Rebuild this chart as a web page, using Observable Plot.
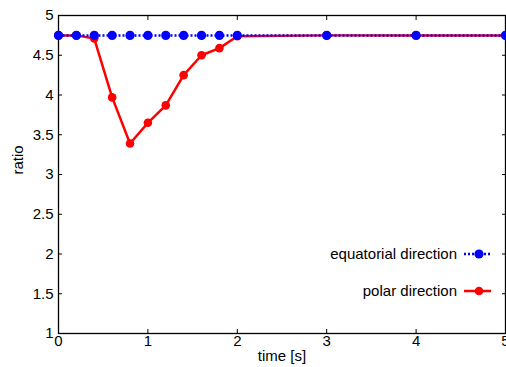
<!DOCTYPE html>
<html>
<head>
<meta charset="utf-8">
<script src="https://cdn.jsdelivr.net/npm/d3@7"></script>
<script src="https://cdn.jsdelivr.net/npm/@observablehq/plot@0.6"></script>
<style>
  html, body { margin: 0; padding: 0; background: #fff; }
  #chart { position: relative; width: 506px; height: 367px; overflow: hidden; }
</style>
</head>
<body>
<div id="chart"></div>
<script>
const times = [0, 0.2, 0.4, 0.6, 0.8, 1.0, 1.2, 1.4, 1.6, 1.8, 2.0, 3, 4, 5];
const equatorial = [4.75, 4.75, 4.75, 4.75, 4.75, 4.75, 4.75, 4.75, 4.75, 4.75, 4.75, 4.75, 4.75, 4.75];
const polar = [4.75, 4.75, 4.71, 3.97, 3.39, 3.65, 3.87, 4.25, 4.5, 4.59, 4.74, 4.75, 4.75, 4.75];
const xTicks = [0, 1, 2, 3, 4, 5];
const yTicks = [1, 1.5, 2, 2.5, 3, 3.5, 4, 4.5, 5];
const seriesNames = ["equatorial direction", "polar direction"];
const xLabel = "time [s]";
const yLabel = "ratio";

const eqData = times.map((t, i) => ({t, v: equatorial[i]}));
const poData = times.map((t, i) => ({t, v: polar[i]}));

const W = 506, H = 367, mL = 58, mR = 1, mT = 15, mB = 34;
const FONT = "Liberation Sans, Arial, sans-serif";
const FS = 15;
const fmt = d => String(d);

const plot = Plot.plot({
  width: W, height: H,
  marginLeft: mL, marginRight: mR, marginTop: mT, marginBottom: mB,
  style: {fontFamily: FONT, fontSize: FS + "px", color: "#000", background: "#fff", overflow: "visible"},
  x: {domain: [0, 5]},
  y: {domain: [1, 5]},
  marks: [
    Plot.axisX(xTicks, {anchor: "bottom", tickSize: -4, tickPadding: 6, tickFormat: fmt, label: null, fontSize: FS}),
    Plot.axisX(xTicks, {anchor: "top", tickSize: -4, tickFormat: () => "", label: null}),
    Plot.axisY(yTicks, {anchor: "left", tickSize: -4, tickPadding: 9, tickFormat: fmt, label: null, fontSize: FS}),
    Plot.axisY(yTicks, {anchor: "right", tickSize: -4, tickFormat: () => "", label: null}),
    Plot.frame({stroke: "#000", strokeWidth: 1.3}),
    Plot.line(poData, {x: "t", y: "v", stroke: "#ff0000", strokeWidth: 2.5}),
    Plot.dot(poData, {x: "t", y: "v", fill: "#ff0000", r: 4.3}),
    Plot.line(eqData, {x: "t", y: "v", stroke: "#0000ff", strokeWidth: 2.5, strokeDasharray: "2,2", strokeLinecap: "butt"}),
    Plot.dot(eqData, {x: "t", y: "v", fill: "#0000ff", r: 4.6}),
    Plot.text([xLabel], {frameAnchor: "bottom", dy: 27, fontSize: FS, fill: "#000"}),
    Plot.text([yLabel], {frameAnchor: "left", rotate: -90, dx: -40, fontSize: FS, fill: "#000"})
  ]
});

document.getElementById("chart").appendChild(plot);

// Legend (inside plot area, lower right)
const svg = d3.select(plot);
const legend = svg.append("g").attr("font-family", FONT).attr("font-size", FS + "px");
const entries = [
  {name: seriesNames[0], color: "#0000ff", dash: "2,2", r: 4.6, y: 254},
  {name: seriesNames[1], color: "#ff0000", dash: null, r: 4.3, y: 291}
];
const textRight = 457, lx1 = 464, lx2 = 491, ldot = 479;
for (const e of entries) {
  legend.append("text").attr("x", textRight).attr("y", e.y).attr("dy", "0.35em")
    .attr("text-anchor", "end").attr("fill", "#000").text(e.name);
  const ln = legend.append("line").attr("x1", lx1).attr("x2", lx2).attr("y1", e.y).attr("y2", e.y)
    .attr("stroke", e.color).attr("stroke-width", 2.5);
  if (e.dash) ln.attr("stroke-dasharray", e.dash);
  legend.append("circle").attr("cx", ldot).attr("cy", e.y).attr("r", e.r).attr("fill", e.color);
}
</script>
</body>
</html>
